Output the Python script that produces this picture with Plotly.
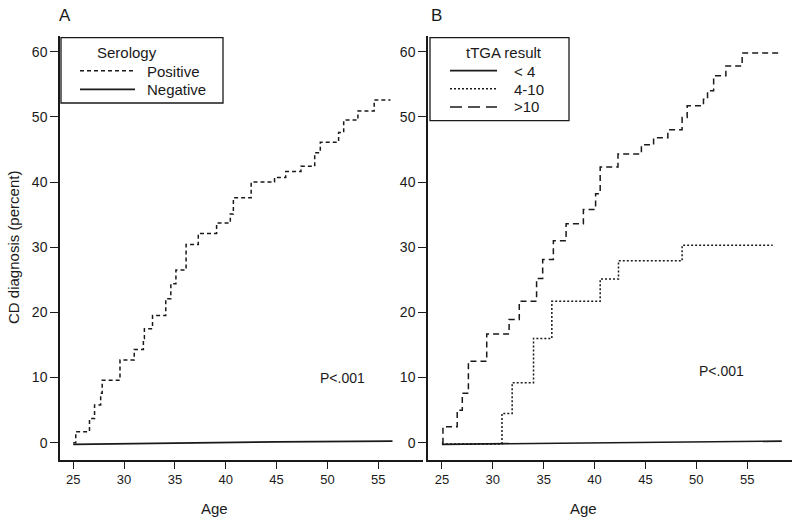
import plotly.graph_objects as go

# ---------------- data ----------------
# Panel A: serology
a_pos_age = [25.0, 25.25, 26.6, 27.1, 27.7, 27.85, 29.6, 31.0, 31.9, 32.0, 32.8, 34.1, 34.6, 35.1,
             36.1, 37.3, 39.1, 40.45, 40.75, 42.5, 44.8, 45.9, 47.4, 48.75, 49.3, 51.1, 51.6,
             53.0, 54.6, 56.2]
a_pos_pct = [0, 1.7, 3.7, 5.8, 7.6, 9.6, 12.7, 14.3, 16.0, 17.5, 19.5, 22.1, 24.4, 26.5,
             30.4, 32.1, 33.7, 35.1, 37.6, 40.0, 40.7, 41.6, 42.4, 44.5, 46.1, 47.6, 49.5,
             50.9, 52.6, 52.6]
a_neg_age = [25.0, 35.0, 45.0, 56.4]
a_neg_pct = [-0.25, -0.05, 0.12, 0.25]

# Panel B: tTGA result
b_hi_age = [25.0, 25.1, 26.5, 27.0, 27.6, 29.4, 31.6, 32.6, 34.3, 34.9, 35.95, 37.2, 38.9,
            40.1, 40.55, 42.3, 44.6, 45.8, 47.2, 48.6, 49.1, 50.7, 51.1, 51.7, 52.9, 54.5, 58.1]
b_hi_pct = [0, 2.45, 5.0, 7.6, 12.5, 16.7, 18.9, 21.7, 25.2, 28.1, 31.0, 33.6, 35.8,
            38.2, 42.3, 44.3, 45.7, 46.8, 48.0, 49.9, 51.7, 52.7, 54.0, 56.3, 57.8, 59.8, 59.8]
b_mid_age = [25.0, 30.9, 31.9, 34.0, 35.8, 40.55, 42.35, 48.6, 57.5]
b_mid_pct = [-0.2, 4.5, 9.2, 16.0, 21.7, 25.1, 27.9, 30.3, 30.3]
b_lo_age = [25.0, 40.0, 58.4]
b_lo_pct = [-0.25, 0.0, 0.25]

x_ticks = [25, 30, 35, 40, 45, 50, 55]
y_ticks = [0, 10, 20, 30, 40, 50, 60]

legend_a_title = "Serology"
legend_a_labels = ["Positive", "Negative"]
legend_b_title = "tTGA result"
legend_b_labels = ["< 4", "4-10", ">10"]

# ---------------- style ----------------
W, H = 800, 525
INK = "#1a1a1a"
FONT = "Liberation Sans, Arial, sans-serif"
DASH_A = "4px,3px"
DASH_B = "6px,4px"
DOT = "2px,2px"


def px(x):
    return x / W


def py(y):
    return 1 - y / H


fig = go.Figure()

fig.add_trace(go.Scatter(x=a_pos_age, y=a_pos_pct, mode="lines", line_shape="hv",
                         line=dict(color=INK, width=1.5, dash=DASH_A),
                         xaxis="x", yaxis="y", name=legend_a_labels[0], showlegend=False))
fig.add_trace(go.Scatter(x=a_neg_age, y=a_neg_pct, mode="lines",
                         line=dict(color=INK, width=1.7),
                         xaxis="x", yaxis="y", name=legend_a_labels[1], showlegend=False))

fig.add_trace(go.Scatter(x=b_lo_age, y=b_lo_pct, mode="lines",
                         line=dict(color=INK, width=1.7),
                         xaxis="x2", yaxis="y2", name=legend_b_labels[0], showlegend=False))
fig.add_trace(go.Scatter(x=b_mid_age, y=b_mid_pct, mode="lines", line_shape="hv",
                         line=dict(color=INK, width=1.5, dash=DOT),
                         xaxis="x2", yaxis="y2", name=legend_b_labels[1], showlegend=False))
fig.add_trace(go.Scatter(x=b_hi_age, y=b_hi_pct, mode="lines", line_shape="hv",
                         line=dict(color=INK, width=1.5, dash=DASH_B),
                         xaxis="x2", yaxis="y2", name=legend_b_labels[2], showlegend=False))

xax = dict(range=[23.7, 59.4], tickvals=x_ticks, ticks="outside", ticklen=7, tickwidth=1.2,
           tickcolor=INK, showline=True, linecolor=INK, linewidth=1.5, showgrid=False,
           zeroline=False, tickfont=dict(family=FONT, size=13, color=INK), automargin=False)
yax = dict(range=[-2.65, 62.4], tickvals=y_ticks, ticks="outside", ticklen=8, tickwidth=1.2,
           tickcolor=INK, showline=True, linecolor=INK, linewidth=1.5, showgrid=False,
           zeroline=False, tickfont=dict(family=FONT, size=14, color=INK), automargin=False,
           domain=[py(460), py(36)])

fig.update_layout(
    width=W, height=H,
    margin=dict(l=0, r=0, t=0, b=0),
    paper_bgcolor="white", plot_bgcolor="white",
    showlegend=False,
    xaxis={**xax, "domain": [px(60), px(423)], "anchor": "y"},
    yaxis={**yax, "anchor": "x"},
    xaxis2={**xax, "domain": [px(428), px(792)], "anchor": "y2", "range": [23.63, 59.4]},
    yaxis2={**yax, "anchor": "x2"},
    font=dict(family=FONT, color=INK),
)

ann = []


def text(x, y, s, size=15, anchor="center"):
    ann.append(dict(x=px(x), y=py(y), xref="paper", yref="paper", text=s, showarrow=False,
                    xanchor=anchor, yanchor="middle", font=dict(family=FONT, size=size, color=INK)))


text(65, 15, "A", 17)
text(436, 15, "B", 17)
text(214, 508, "Age", 15)
text(583, 508, "Age", 15)
ann.append(dict(x=px(14), y=py(248), xref="paper", yref="paper", text="CD diagnosis (percent)",
                showarrow=False, textangle=-90, xanchor="center", yanchor="middle",
                font=dict(family=FONT, size=15, color=INK)))
text(342, 378, "P&lt;.001", 14)
text(721, 371, "P&lt;.001", 14)

# legend A
text(127, 52, legend_a_title, 15)
text(145, 71, legend_a_labels[0], 15, "left")
text(145, 89.5, legend_a_labels[1], 15, "left")
# legend B
text(504, 52, legend_b_title, 15)
text(512, 71, legend_b_labels[0], 15, "left")
text(512, 89, legend_b_labels[1], 15, "left")
text(512, 107, legend_b_labels[2], 15, "left")

shapes = [
    dict(type="rect", xref="paper", yref="paper", x0=px(61), x1=px(223), y0=py(103), y1=py(37.7),
         line=dict(color=INK, width=1.3), fillcolor="white", layer="above"),
    dict(type="rect", xref="paper", yref="paper", x0=px(430), x1=px(569), y0=py(120.7), y1=py(37.7),
         line=dict(color=INK, width=1.3), fillcolor="white", layer="above"),
    dict(type="line", xref="paper", yref="paper", x0=px(80), x1=px(135), y0=py(70.7), y1=py(70.7),
         line=dict(color=INK, width=1.5, dash=DASH_A)),
    dict(type="line", xref="paper", yref="paper", x0=px(80), x1=px(135), y0=py(89.3), y1=py(89.3),
         line=dict(color=INK, width=1.7)),
    dict(type="line", xref="paper", yref="paper", x0=px(450), x1=px(497), y0=py(70.7), y1=py(70.7),
         line=dict(color=INK, width=1.7)),
    dict(type="line", xref="paper", yref="paper", x0=px(450), x1=px(497), y0=py(88.7), y1=py(88.7),
         line=dict(color=INK, width=1.5, dash=DOT)),
    dict(type="line", xref="paper", yref="paper", x0=px(450), x1=px(497), y0=py(107), y1=py(107),
         line=dict(color=INK, width=1.5, dash="12px,6px")),
]

fig.update_layout(annotations=ann, shapes=shapes)
fig.write_html("out.html", config={"displayModeBar": False},
               post_script="document.body.style.margin='0';")
